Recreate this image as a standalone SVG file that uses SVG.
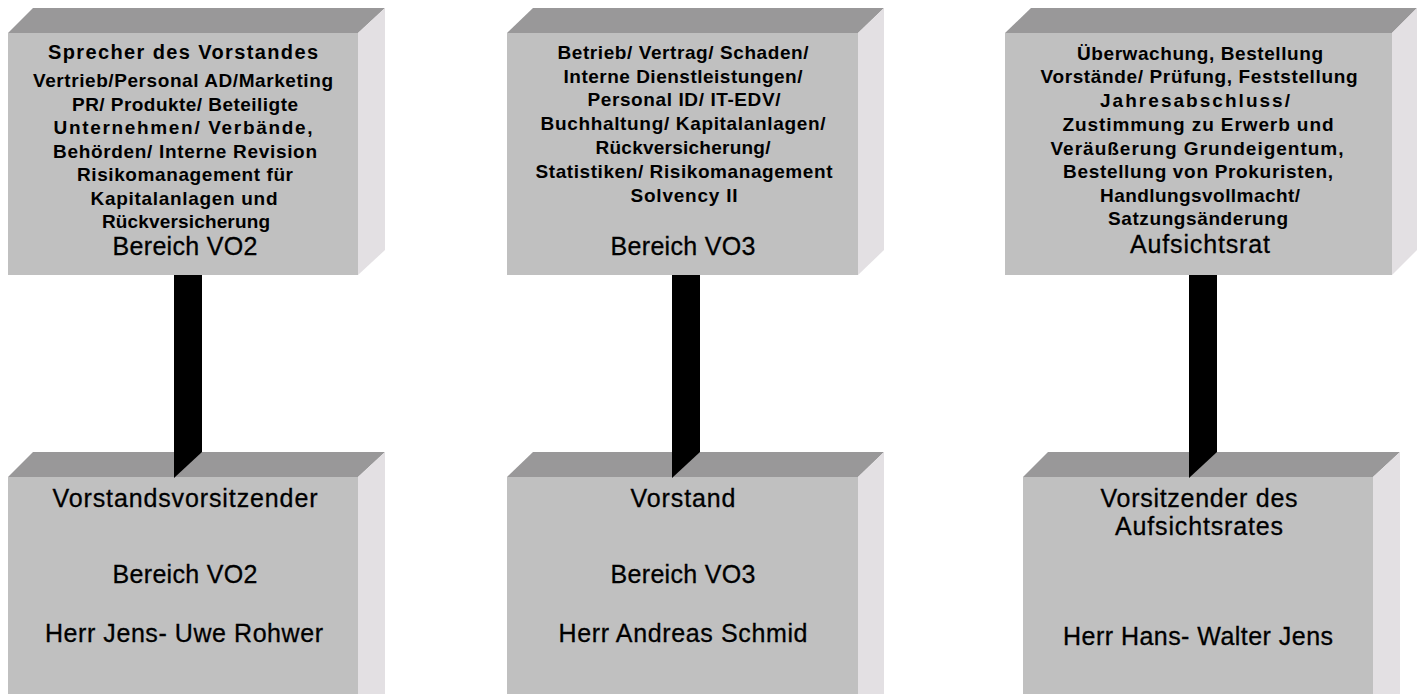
<svg xmlns="http://www.w3.org/2000/svg" width="1422" height="694" viewBox="0 0 1422 694">
<style>
.front{fill:#C0C0C0}
.top{fill:#999899}
.side{fill:#E3E0E3}
text{font-family:"Liberation Sans",Arial,sans-serif;fill:#000;text-anchor:middle}
.b{font-size:19px;font-weight:bold}
.t{font-size:20px;font-weight:bold}
.r{font-size:25px;stroke:#000;stroke-width:0.3}
.bar{fill:#000}
</style>
<rect width="1422" height="694" fill="#fff"/>
<g id="node-top-left">
<polygon class="top" points="8,33 33,8 385,8 358,33"/>
<polygon class="side" points="358,33 385,8 385,250 358,275"/>
<rect class="front" x="8" y="33" width="350" height="242"/>
<text class="t" x="183" y="59" textLength="270">Sprecher des Vorstandes</text>
<text class="b" x="183" y="87" textLength="300">Vertrieb/Personal AD/Marketing</text>
<text class="b" x="185" y="111" textLength="226">PR/ Produkte/ Beteiligte</text>
<text class="b" x="183" y="134" textLength="259">Unternehmen/ Verbände,</text>
<text class="b" x="185" y="158" textLength="264">Behörden/ Interne Revision</text>
<text class="b" x="185" y="181" textLength="216">Risikomanagement für</text>
<text class="b" x="184" y="205" textLength="187">Kapitalanlagen und</text>
<text class="b" x="186" y="228" textLength="168">Rückversicherung</text>
<text class="r" x="185" y="255" textLength="145">Bereich VO2</text>
</g>
<g id="node-top-middle">
<polygon class="top" points="507,33 533,8 884,8 858,33"/>
<polygon class="side" points="858,33 884,8 884,250 858,275"/>
<rect class="front" x="507" y="33" width="351" height="242"/>
<text class="b" x="683" y="59" textLength="251">Betrieb/ Vertrag/ Schaden/</text>
<text class="b" x="683" y="83" textLength="239">Interne Dienstleistungen/</text>
<text class="b" x="684" y="106" textLength="193">Personal ID/ IT-EDV/</text>
<text class="b" x="683" y="130" textLength="285">Buchhaltung/ Kapitalanlagen/</text>
<text class="b" x="683" y="154" textLength="175">Rückversicherung/</text>
<text class="b" x="684" y="178" textLength="297">Statistiken/ Risikomanagement</text>
<text class="b" x="684" y="202" textLength="107">Solvency II</text>
<text class="r" x="683" y="255" textLength="145">Bereich VO3</text>
</g>
<g id="node-top-right">
<polygon class="top" points="1005,33 1031,8 1417,8 1392,33"/>
<polygon class="side" points="1392,33 1417,8 1417,250 1392,275"/>
<rect class="front" x="1005" y="33" width="387" height="242"/>
<text class="b" x="1200" y="60" textLength="246">Überwachung, Bestellung</text>
<text class="b" x="1199" y="83" textLength="317">Vorstände/ Prüfung, Feststellung</text>
<text class="b" x="1195" y="107" textLength="190">Jahresabschluss/</text>
<text class="b" x="1198" y="131" textLength="271">Zustimmung zu Erwerb und</text>
<text class="b" x="1197" y="155" textLength="293">Veräußerung Grundeigentum,</text>
<text class="b" x="1198" y="178" textLength="270">Bestellung von Prokuristen,</text>
<text class="b" x="1200" y="202" textLength="200">Handlungsvollmacht/</text>
<text class="b" x="1198" y="225" textLength="180">Satzungsänderung</text>
<text class="r" x="1200" y="253" textLength="140">Aufsichtsrat</text>
</g>
<g id="node-bottom-left">
<polygon class="top" points="8,477 33,452 385,452 358,477"/>
<polygon class="side" points="358,477 385,452 385,700 358,700"/>
<rect class="front" x="8" y="477" width="350" height="223"/>
<text class="r" x="185" y="507" textLength="265">Vorstandsvorsitzender</text>
<text class="r" x="185" y="583" textLength="145">Bereich VO2</text>
<text class="r" x="184" y="642" textLength="278">Herr Jens- Uwe Rohwer</text>
</g>
<g id="node-bottom-middle">
<polygon class="top" points="507,477 533,452 884,452 858,477"/>
<polygon class="side" points="858,477 884,452 884,700 858,700"/>
<rect class="front" x="507" y="477" width="351" height="223"/>
<text class="r" x="683" y="507" textLength="105">Vorstand</text>
<text class="r" x="683" y="583" textLength="145">Bereich VO3</text>
<text class="r" x="683" y="642" textLength="249">Herr Andreas Schmid</text>
</g>
<g id="node-bottom-right">
<polygon class="top" points="1023,477 1048,452 1400,452 1373,477"/>
<polygon class="side" points="1373,477 1400,452 1400,700 1373,700"/>
<rect class="front" x="1023" y="477" width="350" height="223"/>
<text class="r" x="1199" y="507" textLength="197">Vorsitzender des</text>
<text class="r" x="1199" y="535" textLength="168">Aufsichtsrates</text>
<text class="r" x="1198" y="645" textLength="270">Herr Hans- Walter Jens</text>
</g>
<g id="connectors">
<polygon class="bar" points="174,275 202,275 202,452 174,478"/>
<polygon class="bar" points="672,275 700,275 700,452 672,478"/>
<polygon class="bar" points="1189,275 1217,275 1217,452 1189,478"/>
</g>
</svg>
